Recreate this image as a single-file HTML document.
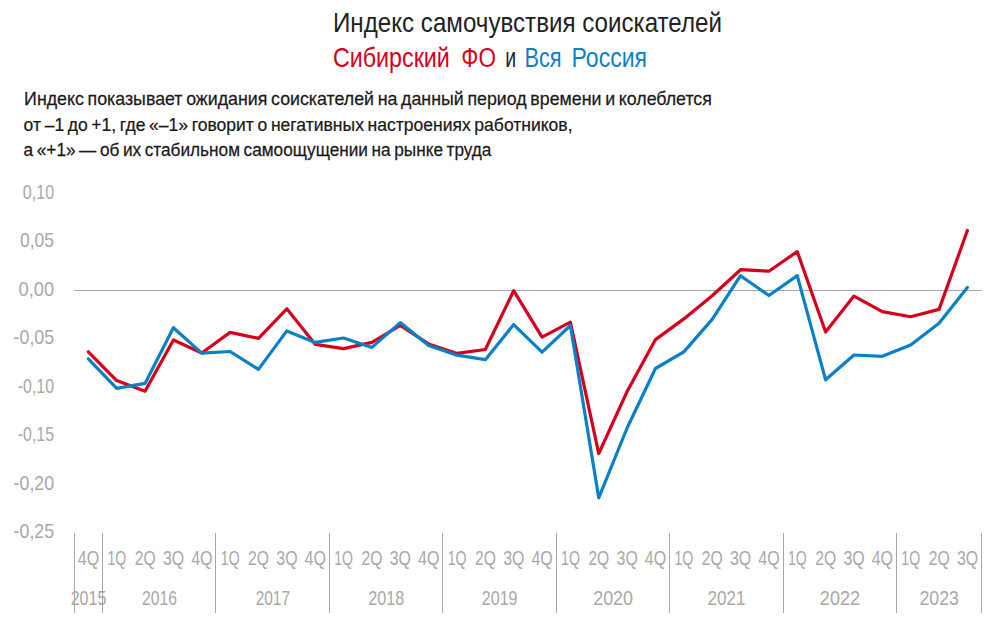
<!DOCTYPE html>
<html><head><meta charset="utf-8">
<style>
html,body{margin:0;padding:0;background:#fff;}
body{width:1004px;height:629px;overflow:hidden;position:relative;}
svg{position:absolute;left:0;top:0;font-family:"Liberation Sans",sans-serif;}
.sub{stroke:#1a1a1a;stroke-width:0.25px;}
.lab{fill:#a8a8a8;}
</style></head><body>
<svg width="1004" height="629" viewBox="0 0 1004 629">
<text transform="translate(333.00,31.90) scale(0.8943,1)" font-size="27" fill="#222222">Индекс самочувствия соискателей</text>
<text transform="translate(333.00,66.90) scale(0.8620,1)" font-size="27" fill="#d7001c">Сибирский</text>
<text transform="translate(461.30,66.90) scale(0.8332,1)" font-size="27" fill="#d7001c">ФО</text>
<text transform="translate(505.30,66.90) scale(0.7222,1)" font-size="27" fill="#222222">и</text>
<text transform="translate(524.40,66.90) scale(0.8062,1)" font-size="27" fill="#0a80c8">Вся</text>
<text transform="translate(571.50,66.90) scale(0.8528,1)" font-size="27" fill="#0a80c8">Россия</text>
<text transform="translate(24.10,104.80) scale(0.9622,1)" font-size="18.5" word-spacing="-1.3" class="sub" fill="#1a1a1a">Индекс показывает ожидания соискателей на данный период времени и колеблется</text>
<text transform="translate(23.60,130.90) scale(0.9479,1)" font-size="18.5" word-spacing="-1.3" class="sub" fill="#1a1a1a">от –1 до +1, где «–1» говорит о негативных настроениях работников,</text>
<text transform="translate(23.60,156.00) scale(0.9316,1)" font-size="18.5" word-spacing="-1.3" class="sub" fill="#1a1a1a">а «+1» — об их стабильном самоощущении на рынке труда</text>
<line x1="74" y1="290.5" x2="982" y2="290.5" stroke="#a6a6a6" stroke-width="1"/>
<text transform="translate(22.80,198.80) scale(0.8042,1)" font-size="20" class="lab">0,10</text>
<text transform="translate(20.00,247.25) scale(0.8762,1)" font-size="20" class="lab">0,05</text>
<text transform="translate(18.60,295.70) scale(0.9121,1)" font-size="20" class="lab">0,00</text>
<text transform="translate(13.60,344.15) scale(0.8885,1)" font-size="20" class="lab">-0,05</text>
<text transform="translate(17.80,392.60) scale(0.7964,1)" font-size="20" class="lab">-0,10</text>
<text transform="translate(17.80,441.05) scale(0.7964,1)" font-size="20" class="lab">-0,15</text>
<text transform="translate(13.60,489.50) scale(0.8885,1)" font-size="20" class="lab">-0,20</text>
<text transform="translate(13.60,537.95) scale(0.8885,1)" font-size="20" class="lab">-0,25</text>
<text transform="translate(77.72,564.50) scale(0.8021,1)" font-size="20" class="lab">4Q</text>
<text transform="translate(107.38,564.50) scale(0.7046,1)" font-size="20" class="lab">1Q</text>
<text transform="translate(134.68,564.50) scale(0.7834,1)" font-size="20" class="lab">2Q</text>
<text transform="translate(162.89,564.50) scale(0.7946,1)" font-size="20" class="lab">3Q</text>
<text transform="translate(191.15,564.50) scale(0.8021,1)" font-size="20" class="lab">4Q</text>
<text transform="translate(220.80,564.50) scale(0.7046,1)" font-size="20" class="lab">1Q</text>
<text transform="translate(248.11,564.50) scale(0.7834,1)" font-size="20" class="lab">2Q</text>
<text transform="translate(276.32,564.50) scale(0.7946,1)" font-size="20" class="lab">3Q</text>
<text transform="translate(304.57,564.50) scale(0.8021,1)" font-size="20" class="lab">4Q</text>
<text transform="translate(334.23,564.50) scale(0.7046,1)" font-size="20" class="lab">1Q</text>
<text transform="translate(361.54,564.50) scale(0.7834,1)" font-size="20" class="lab">2Q</text>
<text transform="translate(389.75,564.50) scale(0.7946,1)" font-size="20" class="lab">3Q</text>
<text transform="translate(418.00,564.50) scale(0.8021,1)" font-size="20" class="lab">4Q</text>
<text transform="translate(447.66,564.50) scale(0.7046,1)" font-size="20" class="lab">1Q</text>
<text transform="translate(474.97,564.50) scale(0.7834,1)" font-size="20" class="lab">2Q</text>
<text transform="translate(503.17,564.50) scale(0.7946,1)" font-size="20" class="lab">3Q</text>
<text transform="translate(531.43,564.50) scale(0.8021,1)" font-size="20" class="lab">4Q</text>
<text transform="translate(561.09,564.50) scale(0.7046,1)" font-size="20" class="lab">1Q</text>
<text transform="translate(588.39,564.50) scale(0.7834,1)" font-size="20" class="lab">2Q</text>
<text transform="translate(616.60,564.50) scale(0.7946,1)" font-size="20" class="lab">3Q</text>
<text transform="translate(644.86,564.50) scale(0.8021,1)" font-size="20" class="lab">4Q</text>
<text transform="translate(674.52,564.50) scale(0.7046,1)" font-size="20" class="lab">1Q</text>
<text transform="translate(701.82,564.50) scale(0.7834,1)" font-size="20" class="lab">2Q</text>
<text transform="translate(730.03,564.50) scale(0.7946,1)" font-size="20" class="lab">3Q</text>
<text transform="translate(758.29,564.50) scale(0.8021,1)" font-size="20" class="lab">4Q</text>
<text transform="translate(787.94,564.50) scale(0.7046,1)" font-size="20" class="lab">1Q</text>
<text transform="translate(815.25,564.50) scale(0.7834,1)" font-size="20" class="lab">2Q</text>
<text transform="translate(843.46,564.50) scale(0.7946,1)" font-size="20" class="lab">3Q</text>
<text transform="translate(871.71,564.50) scale(0.8021,1)" font-size="20" class="lab">4Q</text>
<text transform="translate(901.37,564.50) scale(0.7046,1)" font-size="20" class="lab">1Q</text>
<text transform="translate(928.68,564.50) scale(0.7834,1)" font-size="20" class="lab">2Q</text>
<text transform="translate(956.89,564.50) scale(0.7946,1)" font-size="20" class="lab">3Q</text>
<text transform="translate(70.72,604.70) scale(0.8000,1)" font-size="20" class="lab">2015</text>
<text transform="translate(141.91,604.70) scale(0.7865,1)" font-size="20" class="lab">2016</text>
<text transform="translate(255.64,604.70) scale(0.7730,1)" font-size="20" class="lab">2017</text>
<text transform="translate(368.27,604.70) scale(0.8090,1)" font-size="20" class="lab">2018</text>
<text transform="translate(481.84,604.70) scale(0.8022,1)" font-size="20" class="lab">2019</text>
<text transform="translate(593.17,604.70) scale(0.8966,1)" font-size="20" class="lab">2020</text>
<text transform="translate(707.55,604.70) scale(0.8539,1)" font-size="20" class="lab">2021</text>
<text transform="translate(819.83,604.70) scale(0.9056,1)" font-size="20" class="lab">2022</text>
<text transform="translate(919.48,604.70) scale(0.8876,1)" font-size="20" class="lab">2023</text>
<line x1="74.5" y1="533" x2="74.5" y2="613" stroke="#a6a6a6" stroke-width="1"/>
<line x1="102.5" y1="533" x2="102.5" y2="613" stroke="#a6a6a6" stroke-width="1"/>
<line x1="215.5" y1="533" x2="215.5" y2="613" stroke="#a6a6a6" stroke-width="1"/>
<line x1="329.5" y1="533" x2="329.5" y2="613" stroke="#a6a6a6" stroke-width="1"/>
<line x1="442.5" y1="533" x2="442.5" y2="613" stroke="#a6a6a6" stroke-width="1"/>
<line x1="556.5" y1="533" x2="556.5" y2="613" stroke="#a6a6a6" stroke-width="1"/>
<line x1="669.5" y1="533" x2="669.5" y2="613" stroke="#a6a6a6" stroke-width="1"/>
<line x1="783.5" y1="533" x2="783.5" y2="613" stroke="#a6a6a6" stroke-width="1"/>
<line x1="896.5" y1="533" x2="896.5" y2="613" stroke="#a6a6a6" stroke-width="1"/>
<line x1="981.5" y1="533" x2="981.5" y2="613" stroke="#a6a6a6" stroke-width="1"/>
<path d="M88.32,351.80 L116.68,380.60 L145.03,391.20 L173.39,340.00 L201.75,353.00 L230.10,332.40 L258.46,338.40 L286.82,308.80 L315.17,344.30 L343.53,348.60 L371.89,342.40 L400.25,325.50 L428.60,343.90 L456.96,353.40 L485.32,349.50 L513.67,290.70 L542.03,337.20 L570.39,322.20 L598.74,453.60 L627.10,391.50 L655.46,339.60 L683.82,318.90 L712.17,295.80 L740.53,269.70 L768.89,271.20 L797.24,251.60 L825.60,332.00 L853.96,296.10 L882.31,311.60 L910.67,316.70 L939.03,309.40 L967.39,230.50" fill="none" stroke="#d7001c" stroke-width="3.2" stroke-linejoin="round" stroke-linecap="round"/>
<path d="M88.32,358.80 L116.68,388.40 L145.03,383.40 L173.39,327.70 L201.75,353.10 L230.10,351.50 L258.46,369.40 L286.82,330.90 L315.17,342.40 L343.53,338.00 L371.89,347.40 L400.25,322.60 L428.60,345.50 L456.96,355.20 L485.32,359.70 L513.67,324.60 L542.03,352.20 L570.39,325.50 L598.74,497.80 L627.10,428.00 L655.46,368.50 L683.82,351.90 L712.17,319.40 L740.53,275.70 L768.89,295.50 L797.24,275.60 L825.60,379.80 L853.96,355.00 L882.31,356.30 L910.67,345.00 L939.03,323.20 L967.39,287.40" fill="none" stroke="#0a80c8" stroke-width="3.2" stroke-linejoin="round" stroke-linecap="round"/>
</svg>
</body></html>
